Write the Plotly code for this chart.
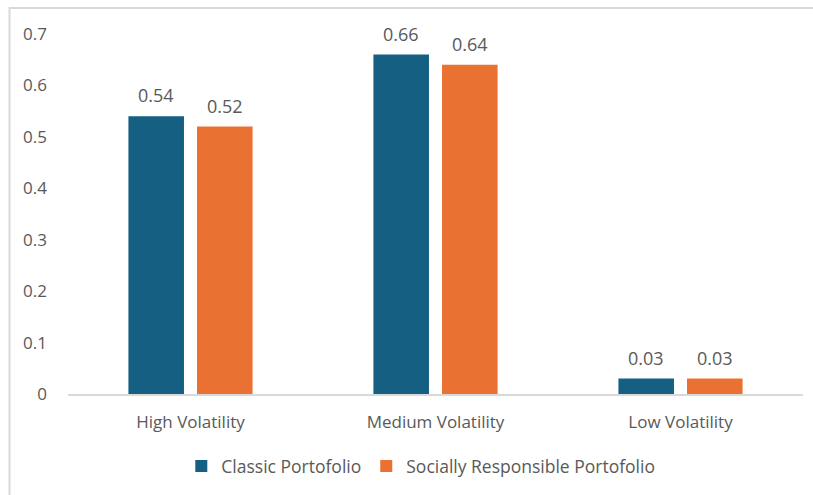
import plotly.graph_objects as go

# Volatility categories and portfolio values
categories = ["High Volatility", "Medium Volatility", "Low Volatility"]
classic = [0.54, 0.66, 0.03]
responsible = [0.52, 0.64, 0.03]
series_names = ["Classic Portofolio", "Socially Responsible Portofolio"]
y_ticks = [0, 0.1, 0.2, 0.3, 0.4, 0.5, 0.6, 0.7]

BLUE = "#156082"
ORANGE = "#E97132"
TEXT = "#595959"
FONT = "Open Sans, Lato, sans-serif"

W, H = 813, 495
L, R, T, B = 68, 10, 34, 101
plot_w = W - L - R
plot_h = H - T - B

fig = go.Figure()
fig.add_trace(go.Bar(x=categories, y=classic, name=series_names[0],
                     marker=dict(color=BLUE, line=dict(width=0))))
fig.add_trace(go.Bar(x=categories, y=responsible, name=series_names[1],
                     marker=dict(color=ORANGE, line=dict(width=0))))

# value labels above each bar, offset to each bar's slot in the group
bargap, groupgap = 0.44, 0.19
slot_px = plot_w / len(categories) * (1 - bargap) / 2
annotations = []
for vals, shift in ((classic, -slot_px / 2), (responsible, slot_px / 2)):
    for cat, v in zip(categories, vals):
        annotations.append(dict(
            x=cat, y=v, xref="x", yref="y", text=f"{v:.2f}",
            showarrow=False, yanchor="bottom", xshift=shift, yshift=7,
            font=dict(family=FONT, size=18, color=TEXT)))

# chart-area frame (top and left edges visible)
px_to_x = lambda px: (px - L) / plot_w
px_to_y = lambda py: (H - B - py) / plot_h
shapes = [dict(type="rect", xref="paper", yref="paper",
               x0=px_to_x(9.5), x1=px_to_x(830), y0=px_to_y(520), y1=px_to_y(8),
               line=dict(color="#d9d9d9", width=2), fillcolor="rgba(0,0,0,0)",
               layer="below")]

fig.update_layout(
    width=W, height=H,
    margin=dict(l=L, r=R, t=T, b=B),
    paper_bgcolor="white", plot_bgcolor="white",
    barmode="group", bargap=bargap, bargroupgap=groupgap,
    font=dict(family=FONT, size=17, color=TEXT),
    showlegend=True,
    legend=dict(orientation="h", x=0.48, xanchor="center", y=px_to_y(466),
                yanchor="middle", font=dict(family=FONT, size=17.5, color=TEXT),
                itemsizing="constant", traceorder="normal"),
    annotations=annotations,
    shapes=shapes,
    xaxis=dict(showgrid=False, showline=True, linecolor="#d9d9d9", linewidth=1.5,
               ticks="", ticklabelstandoff=12,
               tickfont=dict(family=FONT, size=17, color=TEXT)),
    yaxis=dict(range=[0, 0.7], tickvals=y_ticks,
               ticktext=[f"{t:g}" for t in y_ticks],
               showgrid=False, zeroline=False, showline=False, ticks="",
               ticklabelstandoff=20,
               tickfont=dict(family=FONT, size=17, color=TEXT)),
)

fig.write_html("out.html")
